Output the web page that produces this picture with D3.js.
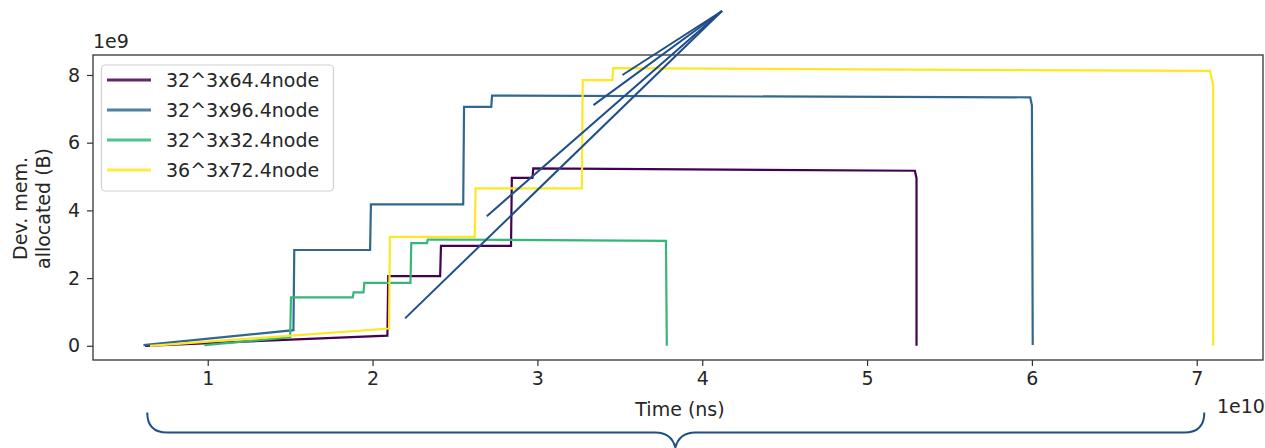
<!DOCTYPE html>
<html lang="en">
<head>
    <meta charset="UTF-8">
    <title>Device memory over time</title>
    <style>
        body {
            margin: 0;
            padding: 0;
            background: #fff;
        }

        svg text {
            font-family: "DejaVu Sans", sans-serif;
            fill: #262626;
        }

        .series {
            fill: none;
            stroke-width: 2.2;
            stroke-linejoin: miter;
        }

        .note {
            fill: none;
            stroke: #1f4e8a;
            stroke-width: 2;
        }
    </style>
</head>
<body>
<svg id="chart" width="1265" height="448"></svg>

<script src="https://d3js.org/d3.v7.min.js"></script>
<script>
    // time in units of 1e10 ns, memory in units of 1e9 B
    var seriesNames = ["32^3x64.4node", "32^3x96.4node", "32^3x32.4node", "36^3x72.4node"];
    var seriesColors = ["#440154", "#31688e", "#35b779", "#fde725"];

    var run64 = [
        [0.62, 0.00], [2.09, 0.30], [2.095, 2.06], [2.41, 2.06], [2.415, 2.95],
        [2.84, 2.95], [2.845, 4.96], [2.97, 4.96], [2.975, 5.24], [5.29, 5.17],
        [5.30, 4.95], [5.30, 0.00]
    ];
    var run96 = [
        [0.61, 0.02], [1.52, 0.46], [1.525, 2.83], [1.985, 2.83], [1.99, 4.18],
        [2.55, 4.18], [2.555, 7.06], [2.72, 7.06], [2.725, 7.39], [5.99, 7.34],
        [6.00, 7.10], [6.005, 0.02]
    ];
    var run32 = [
        [0.98, 0.02], [1.50, 0.25], [1.505, 1.43], [1.88, 1.43], [1.885, 1.58],
        [1.945, 1.58], [1.95, 1.86], [2.23, 1.86], [2.235, 3.03], [2.33, 3.03],
        [2.335, 3.14], [3.78, 3.10], [3.785, 0.00]
    ];
    var run72 = [
        [0.65, 0.00], [2.10, 0.51], [2.105, 3.22], [2.62, 3.22], [2.625, 4.65],
        [3.27, 4.65], [3.275, 7.85], [3.455, 7.85], [3.46, 8.20], [7.08, 8.12],
        [7.10, 7.70], [7.10, 0.00]
    ];
    var allRuns = [run64, run96, run32, run72];

    var xTicks = [1, 2, 3, 4, 5, 6, 7];
    var yTicks = [0, 2, 4, 6, 8];

    // annotation arrows fanning out from one point (data units)
    var noteApex = [4.12, 9.89];
    var noteEnds = [[3.516, 8.0], [3.34, 7.11], [2.693, 3.83], [2.197, 0.81]];
    var braceSpan = [0.633, 3.837, 7.046];

    var plotL = 93, plotR = 1263, plotT = 55, plotB = 360;
    var fs = 19;

    var svg = d3.select("#chart");

    var x = d3.scaleLinear().domain([0.304, 7.402]).range([plotL, plotR]);
    var y = d3.scaleLinear().domain([-0.42, 8.59]).range([plotB, plotT]);

    var line = d3.line()
        .x(d => x(d[0]))
        .y(d => y(d[1]));

    var plot = svg.append("g");

    plot.selectAll(".series")
        .data(allRuns)
        .enter().append("path")
        .attr("class", "series")
        .attr("d", line)
        .attr("stroke", (d, i) => seriesColors[i]);

    // axes
    var xAxis = d3.axisBottom(x).tickValues(xTicks).tickSize(6).tickPadding(6)
        .tickFormat(d3.format("d"));
    var yAxis = d3.axisLeft(y).tickValues(yTicks).tickSize(6).tickPadding(7)
        .tickFormat(d3.format("d"));

    var gx = svg.append("g")
        .attr("transform", "translate(0," + plotB + ")")
        .call(xAxis);
    var gy = svg.append("g")
        .attr("transform", "translate(" + plotL + ",0)")
        .call(yAxis);

    [gx, gy].forEach(function (g) {
        g.select(".domain").remove();
        g.selectAll(".tick line").attr("stroke", "#333").attr("stroke-width", 1.2);
        g.selectAll(".tick text")
            .attr("font-family", "DejaVu Sans")
            .attr("font-size", fs)
            .attr("fill", "#262626");
    });

    // frame
    svg.append("rect")
        .attr("x", plotL)
        .attr("y", plotT)
        .attr("width", plotR - plotL)
        .attr("height", plotB - plotT)
        .attr("fill", "none")
        .attr("stroke", "#333")
        .attr("stroke-width", 1.3);

    // offset texts and labels
    svg.append("text")
        .attr("x", plotL)
        .attr("y", 48)
        .attr("font-size", fs)
        .text("1e9");

    svg.append("text")
        .attr("x", 1217)
        .attr("y", 413)
        .attr("font-size", fs)
        .text("1e10");

    svg.append("text")
        .attr("x", (plotL + plotR) / 2 + 2)
        .attr("y", 416)
        .attr("text-anchor", "middle")
        .attr("font-size", fs)
        .text("Time (ns)");

    var ylab = svg.append("text")
        .attr("transform", "translate(27," + ((plotT + plotB) / 2 + 1) + ") rotate(-90)")
        .attr("text-anchor", "middle")
        .attr("font-size", fs);
    ylab.append("tspan").attr("x", 0).attr("dy", 0).text("Dev. mem.");
    ylab.append("tspan").attr("x", 0).attr("dy", 23).text("allocated (B)");

    // legend
    var legend = svg.append("g");
    legend.append("rect")
        .attr("x", 101.5)
        .attr("y", 65)
        .attr("width", 232)
        .attr("height", 126)
        .attr("rx", 4)
        .attr("fill", "#fff")
        .attr("fill-opacity", 0.8)
        .attr("stroke", "#d0d0d0")
        .attr("stroke-width", 1.2);

    var rows = legend.selectAll(".row")
        .data(seriesNames)
        .enter().append("g")
        .attr("class", "row")
        .attr("transform", (d, i) => "translate(0," + (80 + i * 30) + ")");

    rows.append("line")
        .attr("x1", 107)
        .attr("x2", 151)
        .attr("stroke", (d, i) => seriesColors[i])
        .attr("stroke-opacity", 0.85)
        .attr("stroke-width", 3);

    rows.append("text")
        .attr("x", 166)
        .attr("dy", "0.35em")
        .attr("font-size", fs)
        .text(d => d);

    // annotation lines
    svg.selectAll(".note-line")
        .data(noteEnds)
        .enter().append("line")
        .attr("class", "note")
        .attr("x1", x(noteApex[0]))
        .attr("y1", y(noteApex[1]))
        .attr("x2", d => x(d[0]))
        .attr("y2", d => y(d[1]));

    // curly brace under the x axis
    var bl = x(braceSpan[0]), bm = x(braceSpan[1]), br = x(braceSpan[2]);
    var by = 432.5, r = 20;
    var brace = "M" + bl + "," + (by - r) +
        " Q" + bl + "," + by + " " + (bl + r) + "," + by +
        " L" + (bm - r) + "," + by +
        " Q" + (bm - 4) + "," + by + " " + bm + "," + (by + 15) +
        " Q" + (bm + 4) + "," + by + " " + (bm + r) + "," + by +
        " L" + (br - r) + "," + by +
        " Q" + br + "," + by + " " + br + "," + (by - r);
    svg.append("path")
        .attr("class", "note")
        .attr("d", brace);
</script>
</body>
</html>
